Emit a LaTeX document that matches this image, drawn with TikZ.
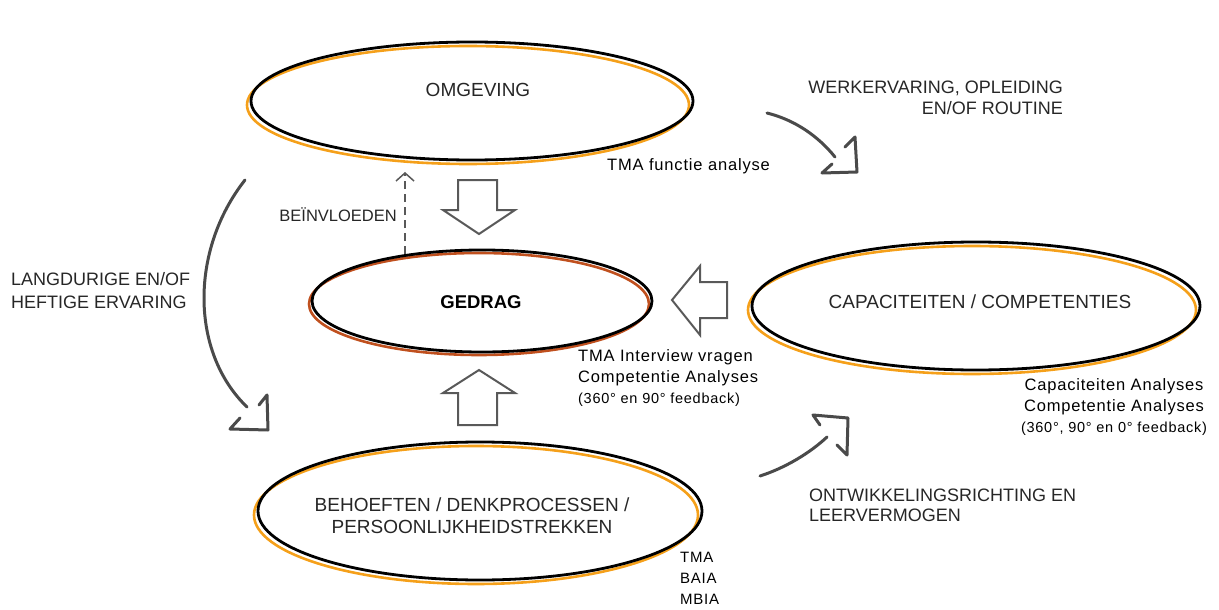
\documentclass[tikz,border=0pt]{standalone}
\usepackage{fontspec}
\setmainfont{Liberation Sans}
\newfontfamily\spacedfont[LetterSpace=5]{Liberation Sans}
\usetikzlibrary{shapes.geometric,arrows.meta}
\definecolor{ringorange}{HTML}{F5A01A}
\definecolor{ringrust}{HTML}{C0501E}
\definecolor{arrowgray}{HTML}{595959}
\definecolor{curvegray}{HTML}{4A4A4A}
\begin{document}
\begin{tikzpicture}[x=1pt,y=-1pt,
  ring/.style={ellipse,draw=black,line width=2.8pt,inner sep=0pt},
  halo/.style={ellipse,draw=ringorange,line width=2.6pt,inner sep=0pt},
  blockarrow/.style={draw=arrowgray,line width=2pt,fill=white},
  bendline/.style={draw=curvegray,line width=3pt,line cap=round},
  openhead/.style={draw=curvegray,line width=3pt,line cap=round,line join=round},
  caps/.style={font=\fontsize{18}{21}\selectfont,inner sep=0pt,text=black!85},
  big/.style={font=\fontsize{19}{22}\selectfont,inner sep=0pt,text=black!85},
  small/.style={font=\spacedfont\fontsize{16.5}{21}\selectfont,inner sep=0pt}]
\useasboundingbox (0,0) rectangle (1219,610);
\node[halo,minimum width=442pt,minimum height=118pt] (omghalo) at (468,105) {};
\node[ring,minimum width=442pt,minimum height=118pt] (omg) at (472,101) {};
\node[halo,draw=ringrust,minimum width=340pt,minimum height=102pt] (gedhalo) at (479,304) {};
\node[ring,minimum width=340pt,minimum height=102pt] (ged) at (482,301) {};
\node[halo,minimum width=448pt,minimum height=128pt] (caphalo) at (972,310) {};
\node[ring,minimum width=448pt,minimum height=128pt] (cap) at (976,306) {};
\node[halo,minimum width=444pt,minimum height=138pt] (behhalo) at (476,515) {};
\node[ring,minimum width=444pt,minimum height=138pt] (beh) at (480,511) {};
\node[big] (omgtxt) at (478,90) {OMGEVING};
\node[inner sep=0pt,font=\bfseries\fontsize{18.5}{22}\selectfont] (gedtxt) at (481,302) {GEDRAG};
\node[big] (captxt) at (980,302) {CAPACITEITEN / COMPETENTIES};
\node[big,align=center] (behtxt) at (472,516) {BEHOEFTEN / DENKPROCESSEN /\\PERSOONLIJKHEIDSTREKKEN};
\node[caps,align=right,anchor=east] (werk) at (1063,98) {WERKERVARING, OPLEIDING\\EN/OF ROUTINE};
\node[caps,align=left,anchor=west,font=\fontsize{18}{23}\selectfont] (lang) at (11,291) {LANGDURIGE EN/OF\\HEFTIGE ERVARING};
\node[caps,align=left,anchor=west,font=\fontsize{18}{20}\selectfont] (ontw) at (809,505) {ONTWIKKELINGSRICHTING EN\\LEERVERMOGEN};
\node[caps,anchor=east,font=\fontsize{16.5}{20}\selectfont] (bein) at (397,215) {BEÏNVLOEDEN};
\node[small,anchor=west] (tmaf) at (607,166) {TMA functie analyse};
\node[small,align=left,anchor=west] (tmai) at (578,378) {TMA Interview vragen\\Competentie Analyses\\{\fontsize{14.5}{18}\selectfont(360° en 90° feedback)}};
\node[small,align=center] (capa) at (1114,407) {Capaciteiten Analyses\\Competentie Analyses\\{\fontsize{14.5}{18}\selectfont(360°, 90° en 0° feedback)}};
\node[small,align=left,anchor=north west,font=\spacedfont\fontsize{15}{21}\selectfont] (tmab) at (680,552) {TMA\\BAIA\\MBIA};
\draw[blockarrow] (458,180) -- (497,180) -- (497,210) -- (515,210) -- (479,234) -- (443,210) -- (458,210) -- cycle;
\draw[blockarrow] (479,370) -- (515,393) -- (497,393) -- (497,425) -- (458,425) -- (458,393) -- (443,393) -- cycle;
\draw[blockarrow] (672,300) -- (700,266) -- (700,282) -- (727,282) -- (727,318) -- (700,318) -- (700,335) -- cycle;
\coordinate (beinfrom) at (405,254);
\coordinate (beinto) at (405,172);
\draw[draw=arrowgray,line width=1.5pt,dash pattern=on 8pt off 5pt,-{Straight Barb[length=8pt,width=18pt]}] (beinfrom) -- (beinto);
\coordinate (werkfrom) at (767,113);
\coordinate (werkto) at (835,157);
\coordinate (werktip) at (857,172);
\draw[bendline] (werkfrom) .. controls (795,120) and (818,136) .. (werkto);
\draw[openhead,shift={(werktip)}] (-12,-25) -- (-2,-35) -- (0,0) -- (-35,1) -- (-25,-8);
\coordinate (langfrom) at (245,180);
\coordinate (langto) at (247,407);
\coordinate (langtip) at (268,430);
\draw[bendline] (langfrom) .. controls (190,250) and (190,352) .. (langto);
\draw[openhead,shift={(langtip)}] (-9,-25) -- (-1,-35) -- (0,0) -- (-38,-1) -- (-28,-12);
\coordinate (ontwfrom) at (760,476);
\coordinate (ontwto) at (827,437);
\coordinate (ontwtip) at (848,418);
\draw[bendline] (ontwfrom) .. controls (785,468) and (810,453) .. (ontwto);
\draw[openhead,shift={(ontwtip)}] (-28,7) -- (-35,-3) -- (0,0) -- (-1,37) -- (-11,27);
\end{tikzpicture}
\end{document}
